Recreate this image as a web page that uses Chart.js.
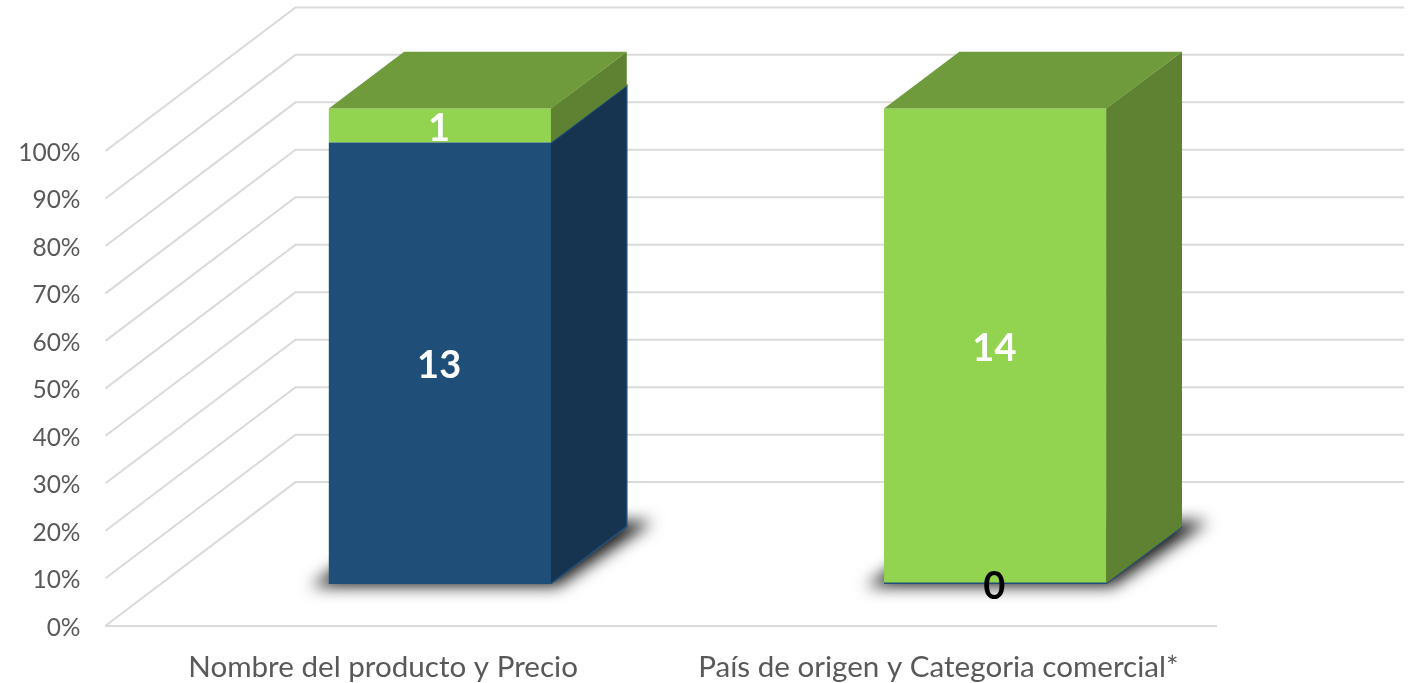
<!DOCTYPE html>
<html>
<head>
<meta charset="utf-8">
<style>html,body{margin:0;padding:0;background:#fff}canvas{display:block}</style>
<script src="https://cdn.jsdelivr.net/npm/chart.js@4"></script>
</head>
<body>
<canvas id="c" width="1412" height="683"></canvas>
<script>
const categories = ["Nombre del producto y Precio", "País de origen y Categoria comercial*"];
const blueCounts = [13, 0];
const greenCounts = [1, 14];
const blueColors = {front:"#1F4E79", side:"#163350", top:"#1F4E79"};
const greenColors = {front:"#92D350", side:"#5F8232", top:"#6F9B3C"};
const totals = categories.map((_, i) => blueCounts[i] + greenCounts[i]);
const toPct = (arr) => arr.map((v, i) => v / totals[i] * 100);

const WALL = {dx:190, dy:-143.6};
const SHIFT = {dx:57, dy:-42.4};
const BAR = {dx:75.3, dy:-56.8};
const GRID = "#DADADA";
const FONT = "Lato, Carlito, sans-serif";

function poly(ctx, pts, fill){
  ctx.beginPath();
  pts.forEach((p,i)=> i ? ctx.lineTo(p[0],p[1]) : ctx.moveTo(p[0],p[1]));
  ctx.closePath();
  ctx.fillStyle = fill;
  ctx.fill();
}

const threeD = {
  id:"threeD",
  beforeDatasetsDraw(chart){
    const {ctx, scales:{y}, chartArea:a} = chart;
    ctx.save();
    ctx.strokeStyle = GRID; ctx.lineWidth = 2;
    y.ticks.forEach(t=>{
      const py = y.getPixelForValue(t.value);
      ctx.beginPath();
      ctx.moveTo(a.left, py);
      ctx.lineTo(a.left+WALL.dx, py+WALL.dy);
      ctx.lineTo(a.right+WALL.dx-2, py+WALL.dy);
      ctx.stroke();
    });
    const m = chart.getDatasetMeta(0).data;
    ctx.filter = "blur(8px)";
    m.forEach(el=>{
      const l = el.x-el.width/2+SHIFT.dx, r = el.x+el.width/2+SHIFT.dx, b = el.base+SHIFT.dy;
      poly(ctx, [[l-18,b+3],[r+6,b+3],[r+BAR.dx+26,b+BAR.dy-5],[l+BAR.dx,b+BAR.dy-5]], "#1a1a1a");
    });
    ctx.filter = "none";
    ctx.restore();
    ctx.save();
    ctx.translate(SHIFT.dx, SHIFT.dy);
  },
  afterDatasetsDraw(chart){
    const {ctx} = chart;
    ctx.restore();
    ctx.save();
    const n = chart.data.datasets.length;
    chart.data.datasets.forEach((ds, di)=>{
      const cols = di===0 ? blueColors : greenColors;
      chart.getDatasetMeta(di).data.forEach((el, i)=>{
        const l = el.x-el.width/2+SHIFT.dx, r = el.x+el.width/2+SHIFT.dx;
        const t = el.y+SHIFT.dy, b = el.base+SHIFT.dy;
        if(t!==b){
          poly(ctx, [[r-0.5,b],[r-0.5,t],[r+BAR.dx,t+BAR.dy],[r+BAR.dx,b+BAR.dy]], cols.side);
        }
        if(di===n-1){
          poly(ctx, [[l,t],[r,t],[r+BAR.dx,t+BAR.dy],[l+BAR.dx,t+BAR.dy]], cols.top);
        }
        if(di===0){
          ctx.strokeStyle = "#1F4E79"; ctx.lineWidth = 1.6;
          ctx.beginPath();
          ctx.moveTo(l,b); ctx.lineTo(r,b); ctx.lineTo(r+BAR.dx,b+BAR.dy);
          if(t!==b){ ctx.lineTo(r+BAR.dx,t+BAR.dy); ctx.lineTo(r,t); }
          ctx.stroke();
        }
      });
    });
    ctx.textAlign = "center"; ctx.textBaseline = "middle";
    ctx.font = "bold 38px "+FONT;
    const counts = [blueCounts, greenCounts];
    chart.data.datasets.forEach((ds, di)=>{
      chart.getDatasetMeta(di).data.forEach((el, i)=>{
        const v = counts[di][i];
        ctx.fillStyle = v===0 ? "#000000" : "#FFFFFF";
        ctx.fillText(String(v), el.x+SHIFT.dx-1, (el.y+el.base)/2+SHIFT.dy+3);
      });
    });
    ctx.restore();
  }
};

new Chart(document.getElementById("c"), {
  type:"bar",
  plugins:[threeD],
  data:{
    labels:categories,
    datasets:[
      {label:"Serie 1", data:toPct(blueCounts), backgroundColor:blueColors.front, clip:false},
      {label:"Serie 2", data:toPct(greenCounts), backgroundColor:greenColors.front, clip:false}
    ]
  },
  options:{
    responsive:false,
    animation:false,
    layout:{padding:{top:151,right:196,bottom:0,left:0}},
    plugins:{legend:{display:false},tooltip:{enabled:false},title:{display:false}},
    datasets:{bar:{barPercentage:1,categoryPercentage:0.401}},
    scales:{
      x:{
        stacked:true,
        grid:{display:false},
        border:{display:true,color:GRID,width:2},
        ticks:{color:"#595959",font:{family:FONT,size:29.6},padding:16,maxRotation:0,autoSkip:false},
        afterFit(s){s.height=57.3;}
      },
      y:{
        stacked:true,min:0,max:100,
        grid:{display:false},
        border:{display:false},
        ticks:{stepSize:10,color:"#595959",font:{family:FONT,size:24.5},padding:17,labelOffset:2,callback:v=>v+"%"},
        afterFit(s){s.width=105.5;}
      }
    }
  }
});
</script>
</body>
</html>
